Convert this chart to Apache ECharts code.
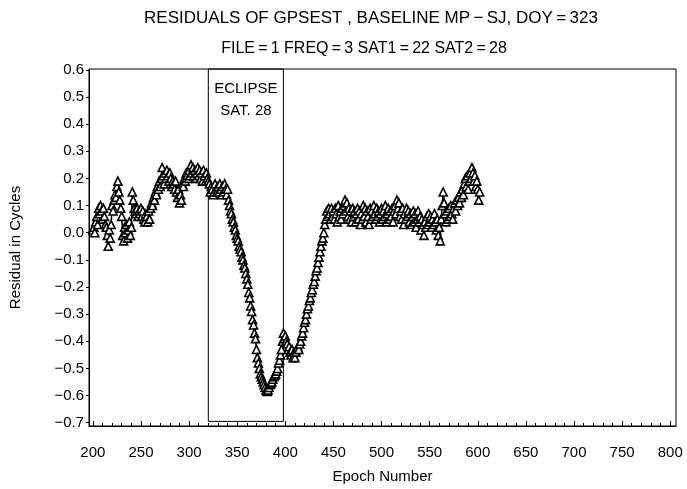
<!DOCTYPE html>
<html>
<head>
<meta charset="utf-8">
<script src="https://cdn.jsdelivr.net/npm/echarts@6/dist/echarts.min.js"></script>
<style>html,body{margin:0;padding:0;background:#fff}#c{width:687px;height:489px}</style>
</head>
<body>
<div id="c"></div>
<script>
const titleText = 'RESIDUALS OF GPSEST , BASELINE MP\u2009\u2212\u2009SJ, DOY\u2009=\u2009323';
const subtitleText = 'FILE\u2009=\u20091 FREQ\u2009=\u20093 SAT1\u2009=\u200922 SAT2\u2009=\u200928';
const xName = 'Epoch Number';
const yName = 'Residual in Cycles';
const xTicks = [200,250,300,350,400,450,500,550,600,650,700,750,800];
const yTicks = [-0.7,-0.6,-0.5,-0.4,-0.3,-0.2,-0.1,0.0,0.1,0.2,0.3,0.4,0.5,0.6];
const eclipseStart = 320, eclipseEnd = 398, eclipseBottom = -0.695;
const eclipseLabel = 'ECLIPSE\nSAT. 28';

const firstEpoch = 200;
const residuals = [
0.01,0.02,0.00,0.04,0.06,0.03,0.09,0.07,0.10,0.08,
0.05,0.09,0.06,0.03,0.02,-0.01,-0.05,0.01,-0.02,0.03,
0.10,0.08,0.12,0.14,0.13,0.17,0.19,0.15,0.12,0.09,
0.06,-0.01,-0.03,0.02,0.00,0.03,-0.02,0.01,0.04,-0.01,
0.02,0.15,0.12,0.09,0.08,0.07,0.09,0.06,0.08,0.07,
0.09,0.06,0.08,0.05,0.04,0.07,0.06,0.04,0.08,0.05,
0.09,0.11,0.10,0.13,0.12,0.15,0.14,0.17,0.16,0.19,
0.17,0.20,0.24,0.21,0.18,0.22,0.20,0.23,0.21,0.19,
0.22,0.20,0.17,0.19,0.18,0.16,0.19,0.15,0.13,0.16,
0.11,0.14,0.12,0.18,0.17,0.20,0.19,0.22,0.21,0.20,
0.23,0.21,0.25,0.22,0.24,0.21,0.23,0.20,0.22,0.24,
0.21,0.23,0.20,0.22,0.19,0.23,0.21,0.19,0.22,0.20,
0.19,0.18,0.15,0.17,0.16,0.14,0.15,0.18,0.16,0.15,
0.17,0.15,0.18,0.16,0.14,0.17,0.15,0.18,0.16,0.14,
0.16,0.12,0.10,0.08,0.07,0.05,0.04,0.02,0.01,-0.01,
-0.02,-0.03,-0.05,-0.06,-0.07,-0.09,-0.10,-0.12,-0.13,-0.15,
-0.17,-0.19,-0.22,-0.24,-0.27,-0.29,-0.32,-0.34,-0.37,-0.39,
-0.43,-0.46,-0.48,-0.50,-0.52,-0.53,-0.54,-0.55,-0.56,-0.57,
-0.58,-0.585,-0.58,-0.57,-0.56,-0.555,-0.55,-0.54,-0.53,-0.525,
-0.52,-0.51,-0.50,-0.48,-0.47,-0.45,-0.43,-0.40,-0.37,-0.39,
-0.38,-0.40,-0.41,-0.43,-0.42,-0.44,-0.45,-0.43,-0.46,-0.44,
-0.46,-0.44,-0.43,-0.42,-0.43,-0.41,-0.40,-0.38,-0.37,-0.35,
-0.33,-0.32,-0.30,-0.28,-0.27,-0.25,-0.24,-0.22,-0.21,-0.19,
-0.18,-0.16,-0.14,-0.13,-0.11,-0.09,-0.07,-0.05,-0.03,-0.02,
0.00,0.03,0.05,0.08,0.06,0.09,0.07,0.05,0.09,0.06,
0.08,0.05,0.09,0.07,0.04,0.10,0.06,0.08,0.05,0.09,
0.07,0.10,0.12,0.08,0.11,0.06,0.09,0.05,0.08,0.04,
0.09,0.06,0.08,0.04,0.07,0.09,0.05,0.08,0.03,0.07,
0.05,0.10,0.06,0.09,0.04,0.08,0.06,0.03,0.09,0.05,
0.08,0.06,0.10,0.07,0.05,0.09,0.06,0.08,0.04,0.07,
0.09,0.05,0.08,0.06,0.10,0.04,0.07,0.09,0.05,0.08,
0.06,0.09,0.04,0.08,0.10,0.07,0.12,0.09,0.11,0.06,
0.08,0.05,0.09,0.03,0.07,0.05,0.09,0.06,0.08,0.04,
0.07,0.03,0.06,0.08,0.04,0.07,0.02,0.05,0.08,0.04,
0.06,0.01,0.05,0.03,-0.01,0.04,0.02,0.06,0.03,0.07,
0.04,0.06,0.02,0.05,0.03,0.07,0.04,0.01,0.05,-0.01,
0.02,-0.03,0.05,0.10,0.15,0.11,0.07,0.04,0.08,0.05,
0.09,0.06,0.10,0.07,0.05,0.09,0.11,0.08,0.12,0.10,
0.13,0.11,0.15,0.13,0.16,0.14,0.18,0.20,0.17,0.21,
0.16,0.19,0.22,0.20,0.24,0.22,0.19,0.21,0.17,0.19,
0.16,0.12,0.15];
const epochs = residuals.map((_, i) => firstEpoch + i);

const xMin = 196, xMax = 806, yMin = -0.712, yMax = 0.603;
const xMinor = [];
for (let v = 210; v < 800; v += 10) if (v % 50 !== 0) xMinor.push(v);

const FONT = 'Liberation Sans';
const chart = echarts.init(document.getElementById('c'), null, {renderer: 'canvas'});
const fmtY = v => { const r = Math.round(v * 10) / 10; return r < 0 ? '\u2212' + Math.abs(r).toFixed(1) : r.toFixed(1); };

chart.setOption({
  animation: false,
  backgroundColor: '#fff',
  title: [
    {text: titleText, left: 366, top: 5, textAlign: 'center',
     textStyle: {fontFamily: FONT, fontSize: 17, fontWeight: 'normal', color: '#000'}},
    {text: subtitleText, left: 359, top: 36, textAlign: 'center',
     textStyle: {fontFamily: FONT, fontSize: 16, fontWeight: 'normal', color: '#000'}}
  ],
  grid: {left: 89, right: 11, top: 69, bottom: 61, show: true, borderColor: '#000', borderWidth: 1, containLabel: false},
  xAxis: [
    {type: 'value', min: xMin, max: xMax, position: 'bottom',
     name: xName, nameLocation: 'middle', nameGap: 43,
     nameTextStyle: {fontFamily: FONT, fontSize: 15, color: '#000'},
     axisLine: {show: true, onZero: false, lineStyle: {color: '#000', width: 1}},
     axisTick: {show: true, inside: true, length: 5, customValues: xTicks, lineStyle: {color: '#000'}},
     axisLabel: {customValues: xTicks, margin: 19, fontFamily: FONT, fontSize: 15, color: '#000'},
     splitLine: {show: false}},
    {type: 'value', min: xMin, max: xMax, position: 'bottom',
     axisLine: {show: false, onZero: false},
     axisTick: {show: true, inside: true, length: 3, customValues: xMinor, lineStyle: {color: '#000'}},
     axisLabel: {show: false}, splitLine: {show: false}}
  ],
  yAxis: {type: 'value', min: yMin, max: yMax,
    name: yName, nameLocation: 'middle', nameGap: 66, nameRotate: 90,
    nameTextStyle: {fontFamily: FONT, fontSize: 15, color: '#000'},
    axisLine: {show: true, onZero: false, lineStyle: {color: '#000', width: 1}},
    axisTick: {show: true, inside: false, length: 3, customValues: yTicks, lineStyle: {color: '#000'}},
    axisLabel: {customValues: yTicks, formatter: fmtY, margin: 5, fontFamily: FONT, fontSize: 15, color: '#000'},
    splitLine: {show: false}},
  series: [
    {type: 'line', xAxisIndex: 0, data: epochs.map((e, i) => [e, residuals[i]]),
     symbol: 'triangle', symbolSize: 8, showAllSymbol: true,
     lineStyle: {color: '#000', width: 1.5},
     itemStyle: {color: '#fff', borderColor: '#000', borderWidth: 1.6},
     markArea: {silent: true,
       itemStyle: {color: 'rgba(0,0,0,0)', borderColor: '#000', borderWidth: 1},
       label: {show: true, position: 'insideTop', distance: 9, formatter: eclipseLabel,
         fontFamily: FONT, fontSize: 15, lineHeight: 22, color: '#000'},
       data: [[{xAxis: eclipseStart, yAxis: yMax}, {xAxis: eclipseEnd, yAxis: eclipseBottom}]]}
    }
  ]
});
</script>
</body>
</html>
